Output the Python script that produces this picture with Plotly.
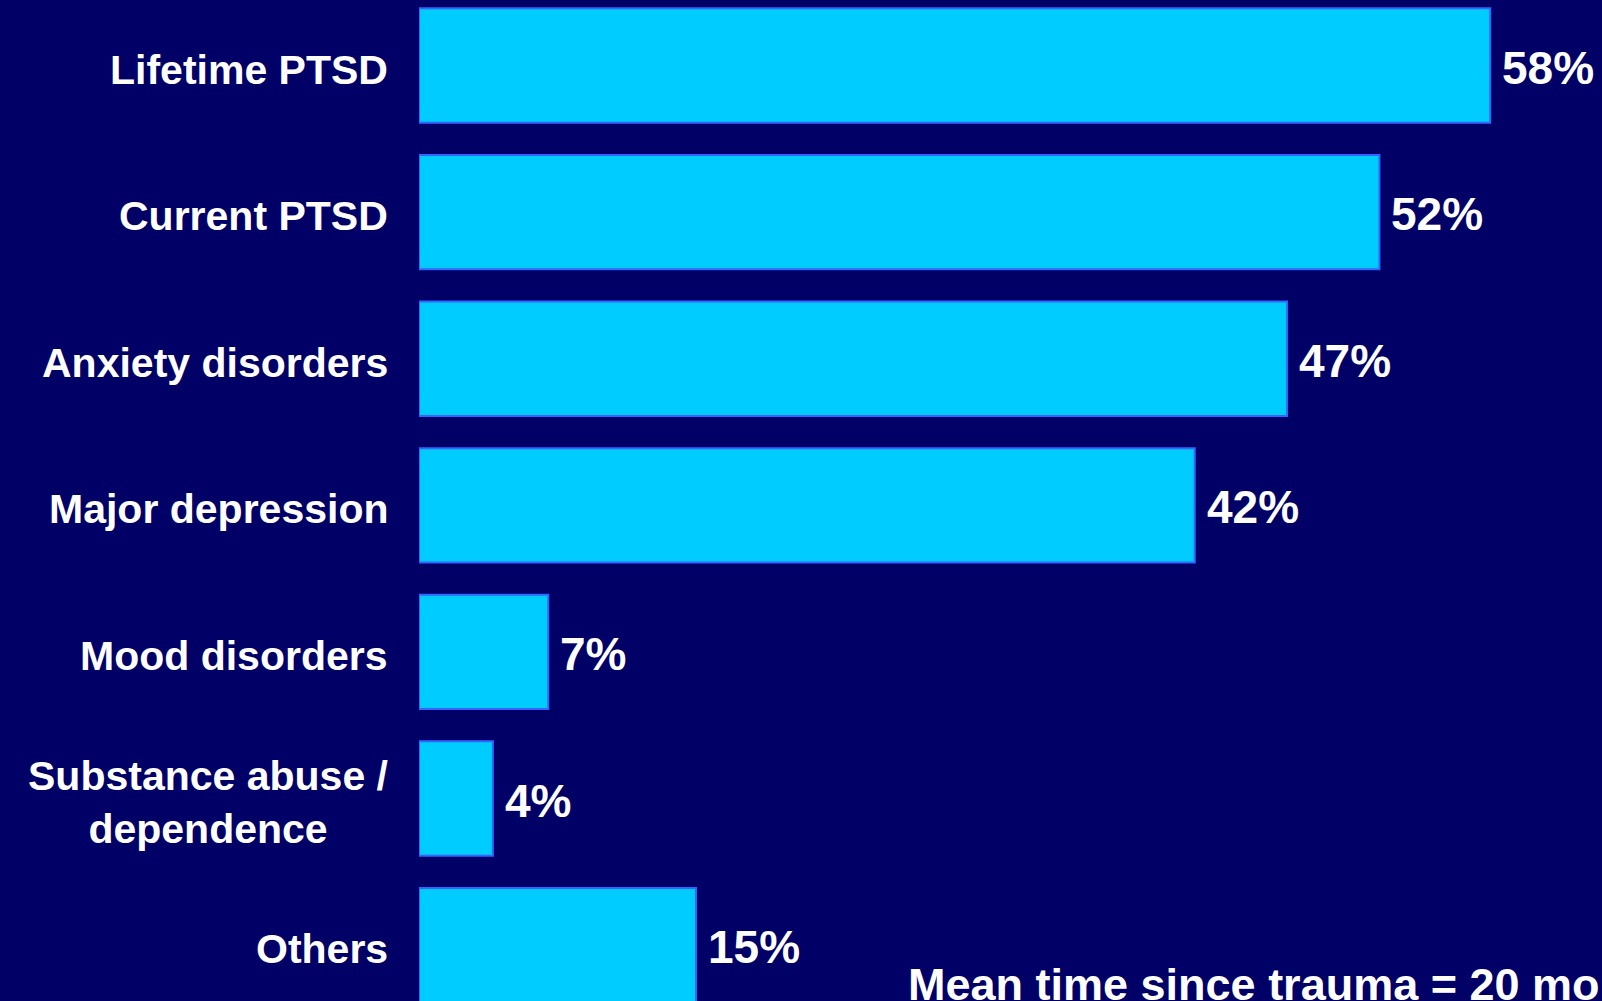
import plotly.graph_objects as go

categories = ["Lifetime PTSD", "Current PTSD", "Anxiety disorders", "Major depression",
              "Mood disorders", "Substance abuse /<br>dependence", "Others"]
values = [58, 52, 47, 42, 7, 4, 15]
value_labels = ["58%", "52%", "47%", "42%", "7%", "4%", "15%"]
note_text = "Mean time since trauma = 20 months"

BG = "#000066"
FONT = "Liberation Sans"

y_idx = list(range(len(categories)))

fig = go.Figure()
fig.add_trace(go.Bar(
    x=values, y=y_idx, orientation="h",
    marker=dict(color="#00CCFF", line=dict(color="#3366FF", width=2)),
    width=0.78, hoverinfo="skip",
))

annotations = []
for i, (c, v, t) in enumerate(zip(categories, values, value_labels)):
    annotations.append(dict(
        x=0, xref="paper", y=i, yref="y", text=c, showarrow=False,
        xanchor="right", yanchor="middle", xshift=-29, yshift=-4, align="center",
        font=dict(family=FONT, size=41, color="white", weight="bold"),
    ))
    annotations.append(dict(
        x=v, xref="x", y=i, yref="y", text=t, showarrow=False,
        xanchor="left", yanchor="middle", xshift=10, yshift=-2,
        font=dict(family=FONT, size=46, color="white", weight="bold"),
    ))

annotations.append(dict(
    x=(906 - 419) / (1602 - 419), xref="paper", y=0, yref="paper", text=note_text,
    showarrow=False, xanchor="left", yanchor="bottom", yshift=-11,
    font=dict(family=FONT, size=45, color="white", weight="bold"),
))

fig.update_layout(
    width=1602, height=1001,
    margin=dict(l=419, r=0, t=0, b=0),
    paper_bgcolor=BG, plot_bgcolor=BG,
    showlegend=False,
    xaxis=dict(range=[0, 64.05], visible=False, fixedrange=True),
    yaxis=dict(range=[6.381, -0.447], visible=False, fixedrange=True),
    annotations=annotations,
)

fig.write_html(
    "out.html",
    config={"displayModeBar": False},
    post_script="document.body.style.margin='0';document.body.style.background='#000066';document.body.style.overflow='hidden';",
)
